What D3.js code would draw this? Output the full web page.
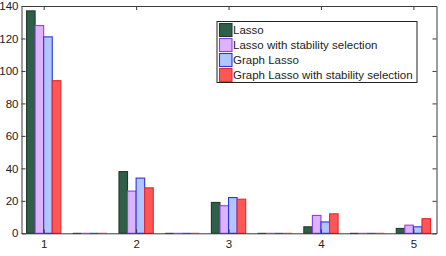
<!DOCTYPE html>
<html>
<head>
<meta charset="utf-8">
<script src="https://cdn.jsdelivr.net/npm/d3@7"></script>
<style>
  body { margin: 0; background: #fff; }
  text { font-family: "Liberation Sans", Arial, sans-serif; }
</style>
</head>
<body>
<div id="chart"></div>
<script>
// values
const positions = [1, 2, 3, 4, 5];
const ghostPositions = [1.5, 2.5, 3.5, 4.5];   // empty groups, drawn as flat bars
const yTicks = [0, 20, 40, 60, 80, 100, 120, 140];
const seriesNames = ["Lasso", "Lasso with stability selection", "Graph Lasso", "Graph Lasso with stability selection"];
const lasso = [137, 38, 19, 4, 3];
const lassoStab = [128, 26, 17, 11, 5];
const graphLasso = [121, 34, 22, 7, 4];
const graphLassoStab = [94, 28, 21, 12, 9];

const fills = ["#2f5f48", "#ddb3ff", "#b3c5ff", "#ff5656"];
const strokes = ["#1e3d2e", "#8f3fe6", "#2a35e0", "#e62828"];

const W = 446, H = 256;
const m = { left: 21.5, right: 9.5, top: 6, bottom: 22.7 };

const svg = d3.select("#chart").append("svg")
    .attr("width", W)
    .attr("height", H);

const x = d3.scaleLinear()
    .domain([0.76, 5.25])
    .range([m.left, W - m.right]);
const y = d3.scaleLinear()
    .domain([0, 140])
    .range([H - m.bottom, m.top]);

// offset of each series inside a group, in data units
const groupWidth = 0.371;
const xs = d3.scaleBand()
    .domain(seriesNames)
    .range([-groupWidth / 2, groupWidth / 2]);

const allSeries = [lasso, lassoStab, graphLasso, graphLassoStab];
const bars = [];
allSeries.forEach((vals, s) => {
    vals.forEach((v, i) => bars.push({ s, pos: positions[i], v }));
});

// flat bars for empty groups
const ghosts = [];
seriesNames.forEach((n, s) => ghostPositions.forEach(p => ghosts.push({ s, pos: p })));

svg.append("g")
    .selectAll("rect")
    .data(bars)
    .join("rect")
    .attr("x", d => x(d.pos + xs(seriesNames[d.s])))
    .attr("width", d => x(d.pos + xs.bandwidth()) - x(d.pos))
    .attr("y", d => y(d.v))
    .attr("height", d => y(0) - y(d.v))
    .attr("fill", d => fills[d.s])
    .attr("stroke", d => strokes[d.s])
    .attr("stroke-width", 1.1);

// axes: box with inward ticks
const axisColor = "#3a3a3a";
const gx = svg.append("g")
    .attr("transform", `translate(0,${y(0)})`)
    .call(d3.axisBottom(x).tickValues(positions).tickFormat(d3.format("d")).tickSizeInner(-4).tickSizeOuter(0).tickPadding(7));
const gxTop = svg.append("g")
    .attr("transform", `translate(0,${m.top})`)
    .call(d3.axisTop(x).tickValues(positions).tickFormat("").tickSizeInner(-4).tickSizeOuter(0));
const gy = svg.append("g")
    .attr("transform", `translate(${m.left},0)`)
    .call(d3.axisLeft(y).tickValues(yTicks).tickSizeInner(-4).tickSizeOuter(0).tickPadding(3));
const gyRight = svg.append("g")
    .attr("transform", `translate(${W - m.right},0)`)
    .call(d3.axisRight(y).tickValues(yTicks).tickFormat("").tickSizeInner(-4).tickSizeOuter(0));

[gx, gxTop, gy, gyRight].forEach(g => {
    g.selectAll("path, line").attr("stroke", axisColor);
    g.selectAll("text").attr("fill", "#222").style("font-size", "11.5px");
});

// zero-height bars sit on the baseline
svg.append("g")
    .selectAll("line")
    .data(ghosts)
    .join("line")
    .attr("x1", d => x(d.pos + xs(seriesNames[d.s])))
    .attr("x2", d => x(d.pos + xs(seriesNames[d.s]) + xs.bandwidth()))
    .attr("y1", y(0))
    .attr("y2", y(0))
    .attr("stroke", d => strokes[d.s])
    .attr("stroke-width", 1);

// legend
const leg = svg.append("g").attr("transform", "translate(217,21.5)");
leg.append("rect")
    .attr("width", 200)
    .attr("height", 61)
    .attr("fill", "#fff")
    .attr("stroke", "#222")
    .attr("stroke-width", 1);
const rows = leg.selectAll("g.row")
    .data(seriesNames)
    .join("g")
    .attr("class", "row")
    .attr("transform", (d, i) => `translate(0,${8.5 + i * 15})`);
rows.append("rect")
    .attr("x", 2.5)
    .attr("y", -6.5)
    .attr("width", 12.5)
    .attr("height", 13)
    .attr("fill", (d, i) => fills[i])
    .attr("stroke", (d, i) => strokes[i])
    .attr("stroke-width", 1.1);
rows.append("text")
    .attr("x", 16)
    .attr("dy", "0.36em")
    .attr("fill", "#222")
    .style("font-size", "11.5px")
    .text(d => d);
</script>
</body>
</html>
